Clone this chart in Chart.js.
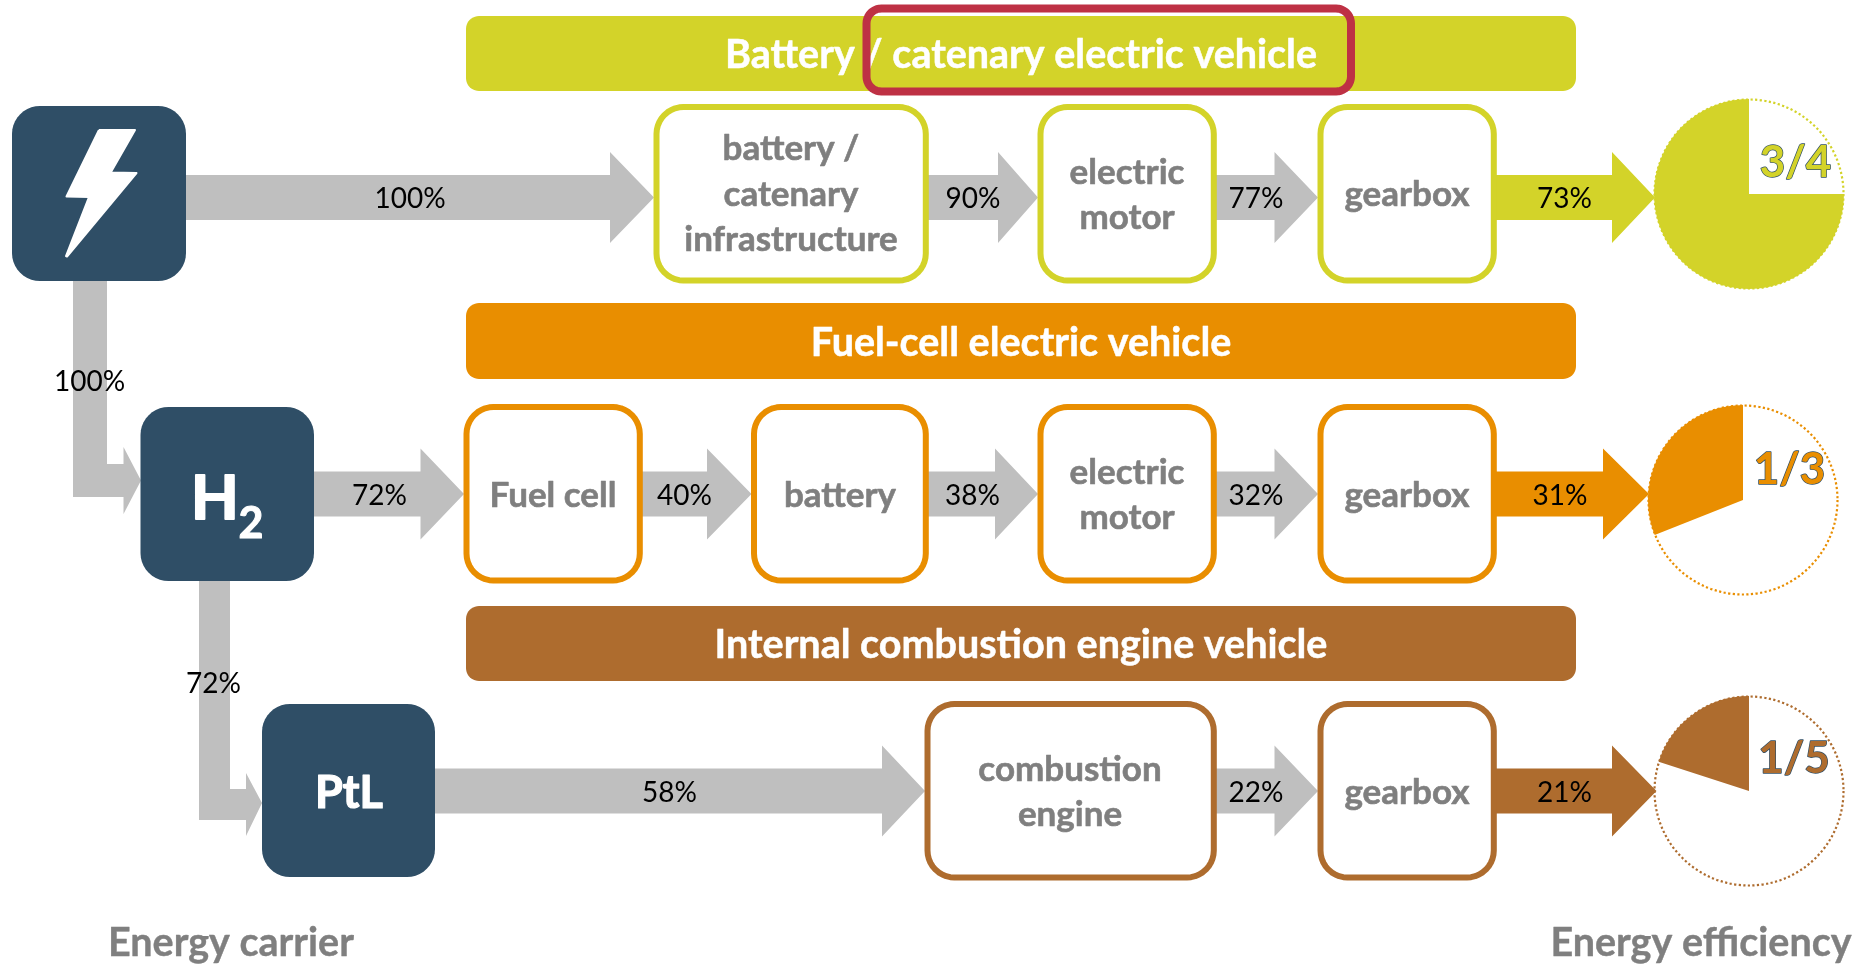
<!DOCTYPE html>
<html>
<head>
<meta charset="utf-8">
<script src="https://cdn.jsdelivr.net/npm/chart.js@4/dist/chart.umd.js"></script>
<style>
html,body{margin:0;padding:0;background:#fff;width:1854px;height:964px;overflow:hidden}
#wrap{position:relative;width:1854px;height:964px}
canvas{position:absolute}
</style>
</head>
<body>
<div id="wrap">
<canvas id="pie0" width="200" height="200" style="left:1649px;top:94px"></canvas>
<canvas id="pie1" width="200" height="200" style="left:1643px;top:400px"></canvas>
<canvas id="pie2" width="200" height="200" style="left:1649px;top:691px"></canvas>
<canvas id="main" width="1854" height="964" style="left:0;top:0"></canvas>
</div>
<script>
/* ---------- values ---------- */
const vehicleTitles = ['Battery / catenary electric vehicle', 'Fuel-cell electric vehicle', 'Internal combustion engine vehicle'];
const carriers = ['H', 'PtL'];
const batteryPathPercents = [100, 90, 77, 73];
const fuelCellPathPercents = [72, 40, 38, 32, 31];
const combustionPathPercents = [58, 22, 21];
const carrierLinkPercents = [100, 72];
const batterySteps = [['battery /', 'catenary', 'infrastructure'], ['electric', 'motor'], ['gearbox']];
const fuelCellSteps = [['Fuel cell'], ['battery'], ['electric', 'motor'], ['gearbox']];
const combustionSteps = [['combustion', 'engine'], ['gearbox']];
const efficiencyShares = [75, 31, 20];
const efficiencyFractions = ['3/4', '1/3', '1/5'];
const footerLabels = ['Energy carrier', 'Energy efficiency'];

/* ---------- palette ---------- */
const YELLOW = '#D3D329', ORANGE = '#E98E00', BROWN = '#AE6C2E', NAVY = '#2F4E66',
      ARROW = '#BFBFBF', GREY = '#7F7F7F', RED = '#BE3144';
const rowColors = [YELLOW, ORANGE, BROWN];
const FONT = 'Lato, "Open Sans", sans-serif';

/* ---------- shape builders, in the diagram's own units ---------- */
function rounded(x0, y0, x1, y1, r) {
  const pts = [{x: (x0 + x1) / 2, y: y0}];
  const corners = [[x1 - r, y0 + r, -90], [x1 - r, y1 - r, 0], [x0 + r, y1 - r, 90], [x0 + r, y0 + r, 180]];
  for (const [cx, cy, a0] of corners) {
    for (let i = 0; i <= 10; i++) {
      const a = (a0 + i * 9) * Math.PI / 180;
      pts.push({x: cx + r * Math.cos(a), y: cy + r * Math.sin(a)});
    }
  }
  pts.push(pts[0]);
  return pts;
}
function arrowPts(x0, neck, tip, cy) {
  const s = 22.5, h = 45.5;
  const p = [[x0, cy - s], [neck, cy - s], [neck, cy - h], [tip, cy], [neck, cy + h], [neck, cy + s], [x0, cy + s], [x0, cy - s]];
  return p.map(([x, y]) => ({x, y}));
}
const toPts = a => a.map(([x, y]) => ({x, y}));

const shapes = [];
function add(label, data, fill, stroke, width) {
  shapes.push({label, data, fill: 'shape', backgroundColor: fill, borderColor: stroke || fill, borderWidth: width || 0,
    showLine: true, pointRadius: 0, pointHoverRadius: 0, tension: 0, borderDash: [100000, 0], borderJoinStyle: 'round'});
}

const ROW1 = 197.5, ROW2 = 494, ROW3 = 791;

/* grey and coloured arrows */
add('link 100%', toPts([[73,278],[107,278],[107,464],[123.5,464],[123.5,447],[141,480.5],[123.5,514],[123.5,497],[73,497],[73,278]]), ARROW);
add('link 72%', toPts([[199,578],[230,578],[230,789],[246,789],[246,773],[262,803],[246,836],[246,820],[199,820],[199,578]]), ARROW);
[[186,610,654,ROW1,ARROW],[928,998,1038,ROW1,ARROW],[1216,1274.5,1318,ROW1,ARROW],[1496,1612,1655,ROW1,YELLOW],
 [314,420.5,464,ROW2,ARROW],[642,707,751.5,ROW2,ARROW],[928,995,1038,ROW2,ARROW],[1216,1274.5,1318,ROW2,ARROW],[1496,1603,1649,ROW2,ORANGE],
 [435,882,925,ROW3,ARROW],[1216,1274.5,1318,ROW3,ARROW],[1496,1612,1656.5,ROW3,BROWN]
].forEach(([a,b,c,y,col], i) => add('arrow ' + i, arrowPts(a,b,c,y), col));

/* banners */
[[16,91],[303,379],[606,681]].forEach(([t,b], i) => add(vehicleTitles[i], rounded(466,t,1576,b,13), rowColors[i]));
/* highlight frame, drawn over the first banner's text */
add('highlight', rounded(866.5,8.5,1351,91.5,15), 'rgba(0,0,0,0)', RED, 8);

/* step boxes */
const BW = 6;
function stepBox(x0, x1, y0, y1, col, name) {
  add(name, rounded(x0 - 0.5 + BW/2, y0 + BW/2, x1 + 0.8 - BW/2, y1 + 0.5 - BW/2, 27), '#FFFFFF', col, BW);
}
stepBox(654,928,104,283,YELLOW,'battery / catenary infrastructure');
stepBox(1038,1216,104,283,YELLOW,'electric motor');
stepBox(1318,1496,104,283,YELLOW,'gearbox');
stepBox(464,642,404,583,ORANGE,'Fuel cell');
stepBox(751.5,928,404,583,ORANGE,'battery');
stepBox(1038,1216,404,583,ORANGE,'electric motor');
stepBox(1318,1496,404,583,ORANGE,'gearbox');
stepBox(925,1216,701,880,BROWN,'combustion engine');
stepBox(1318,1496,701,880,BROWN,'gearbox');

/* carriers */
add('electricity', rounded(12,106,186,281,28), NAVY);
add('H2', rounded(140.5,407,314,581,28), NAVY);
add('PtL', rounded(262,704,435,877,28), NAVY);
add('bolt', toPts([[99,130],[135,130],[110.7,172.5],[136.5,173],[67,256.5],[66,256],[89,197],[66.5,196.5],[99,130]]), '#FFFFFF', '#FFFFFF', 2);

shapes.forEach((s, i) => { s.order = shapes.length - i; });

/* ---------- text ---------- */
const pct = v => v + '%';
const texts = [], bannerTexts = [];
function item(text, x, y, font, color, thick) { return {text, x, y, font, color, thick: thick || 0}; }
function t(text, x, y, font, color, thick) { texts.push(item(text, x, y, font, color, thick)); }
const BANNER = 'bold 39.5px ' + FONT, BOX = 'bold 35px ' + FONT, PCT = '28px ' + FONT, FOOT = 'bold 39.5px ' + FONT;

vehicleTitles.forEach((s, i) => bannerTexts.push(item(s, 1021, [68, 356, 658][i], BANNER, '#FFFFFF', 0.5)));

function boxText(lines, x, baselines) { lines.forEach((l, i) => t(l, x, baselines[i], BOX, GREY, 0.6)); }
boxText(batterySteps[0], 791, [160, 205.5, 250.5]);
boxText(batterySteps[1], 1127, [184, 229]);
boxText(batterySteps[2], 1407, [205.5]);
boxText(fuelCellSteps[0], 553, [506.5]);
boxText(fuelCellSteps[1], 840, [506.5]);
boxText(fuelCellSteps[2], 1127, [484, 529]);
boxText(fuelCellSteps[3], 1407, [506.5]);
boxText(combustionSteps[0], 1070, [781, 826]);
boxText(combustionSteps[1], 1407, [804]);

[410, 973, 1256, 1564.5].forEach((x, i) => t(pct(batteryPathPercents[i]), x, 208, PCT, '#000'));
[379.5, 684.5, 972.5, 1256, 1560].forEach((x, i) => t(pct(fuelCellPathPercents[i]), x, 505, PCT, '#000'));
[669.5, 1256, 1564.5].forEach((x, i) => t(pct(combustionPathPercents[i]), x, 802, PCT, '#000'));
t(pct(carrierLinkPercents[0]), 89.5, 391, PCT, '#000');
t(pct(carrierLinkPercents[1]), 213.5, 693, PCT, '#000');

t(carriers[0], 215, 518.5, 'bold 62px ' + FONT, '#FFFFFF', 2);
t('2', 251, 537.5, 'bold 43px ' + FONT, '#FFFFFF', 1);
t(carriers[1], 349, 808, 'bold 45px ' + FONT, '#FFFFFF', 1.2);

t(footerLabels[0], 231, 956, FOOT, GREY, 0.4);
t(footerLabels[1], 1701, 956, FOOT, GREY, 0.4);

const fractionPos = [[1795.5, 177], [1789.5, 484], [1794, 773]];

function drawText(ctx, x, y, o) {
  const px = x.getPixelForValue(o.x), py = y.getPixelForValue(o.y);
  ctx.font = o.font; ctx.fillStyle = o.color; ctx.textAlign = 'center'; ctx.textBaseline = 'alphabetic';
  if (o.thick) {
    ctx.lineWidth = o.thick; ctx.strokeStyle = o.color; ctx.lineJoin = 'round';
    ctx.strokeText(o.text, px, py);
  }
  ctx.fillText(o.text, px, py);
}

const labelPlugin = {
  id: 'diagramText',
  beforeDatasetDraw(chart, args) {
    if (chart.data.datasets[args.index].label !== 'highlight') return;
    const {ctx, scales: {x, y}} = chart;
    ctx.save();
    bannerTexts.forEach(o => drawText(ctx, x, y, o));
    ctx.restore();
  },
  afterDatasetsDraw(chart) {
    const {ctx, scales: {x, y}} = chart;
    ctx.save();
    texts.forEach(o => drawText(ctx, x, y, o));
    efficiencyFractions.forEach((f, i) => {
      const px = x.getPixelForValue(fractionPos[i][0]), py = y.getPixelForValue(fractionPos[i][1]);
      ctx.font = 'bold 44px ' + FONT; ctx.textAlign = 'center';
      ctx.lineWidth = 1.4; ctx.strokeStyle = NAVY; ctx.lineJoin = 'round';
      ctx.strokeText(f, px, py);
      ctx.fillStyle = rowColors[i];
      ctx.fillText(f, px, py);
    });
    ctx.restore();
  }
};

const ringPlugin = {
  id: 'dottedRing',
  afterDatasetsDraw(chart) {
    const arc = chart.getDatasetMeta(0).data[0];
    const {ctx} = chart;
    ctx.save();
    ctx.beginPath();
    ctx.arc(arc.x, arc.y, arc.outerRadius - 0.5, 0, Math.PI * 2);
    ctx.lineWidth = 2.2;
    ctx.setLineDash([2.2, 2.4]);
    ctx.strokeStyle = chart.data.datasets[0].backgroundColor[0];
    ctx.stroke();
    ctx.restore();
  }
};

/* ---------- charts ---------- */
efficiencyShares.forEach((share, i) => {
  new Chart(document.getElementById('pie' + i), {
    type: 'pie',
    data: {
      labels: ['efficiency', 'losses'],
      datasets: [{data: [share, 100 - share], backgroundColor: [rowColors[i], 'rgba(0,0,0,0)'], borderWidth: 0}]
    },
    options: {
      responsive: false, animation: false, rotation: -3.6 * share,
      layout: {padding: 5},
      plugins: {legend: {display: false}, tooltip: {enabled: false}}
    },
    plugins: [ringPlugin]
  });
});

new Chart(document.getElementById('main'), {
  type: 'scatter',
  data: {datasets: shapes},
  options: {
    responsive: false, animation: false, events: [],
    layout: {padding: 0},
    scales: {
      x: {type: 'linear', min: 0, max: 1854, display: false},
      y: {type: 'linear', min: 0, max: 964, reverse: true, display: false}
    },
    plugins: {legend: {display: false}, tooltip: {enabled: false}}
  },
  plugins: [labelPlugin]
});
</script>
</body>
</html>
